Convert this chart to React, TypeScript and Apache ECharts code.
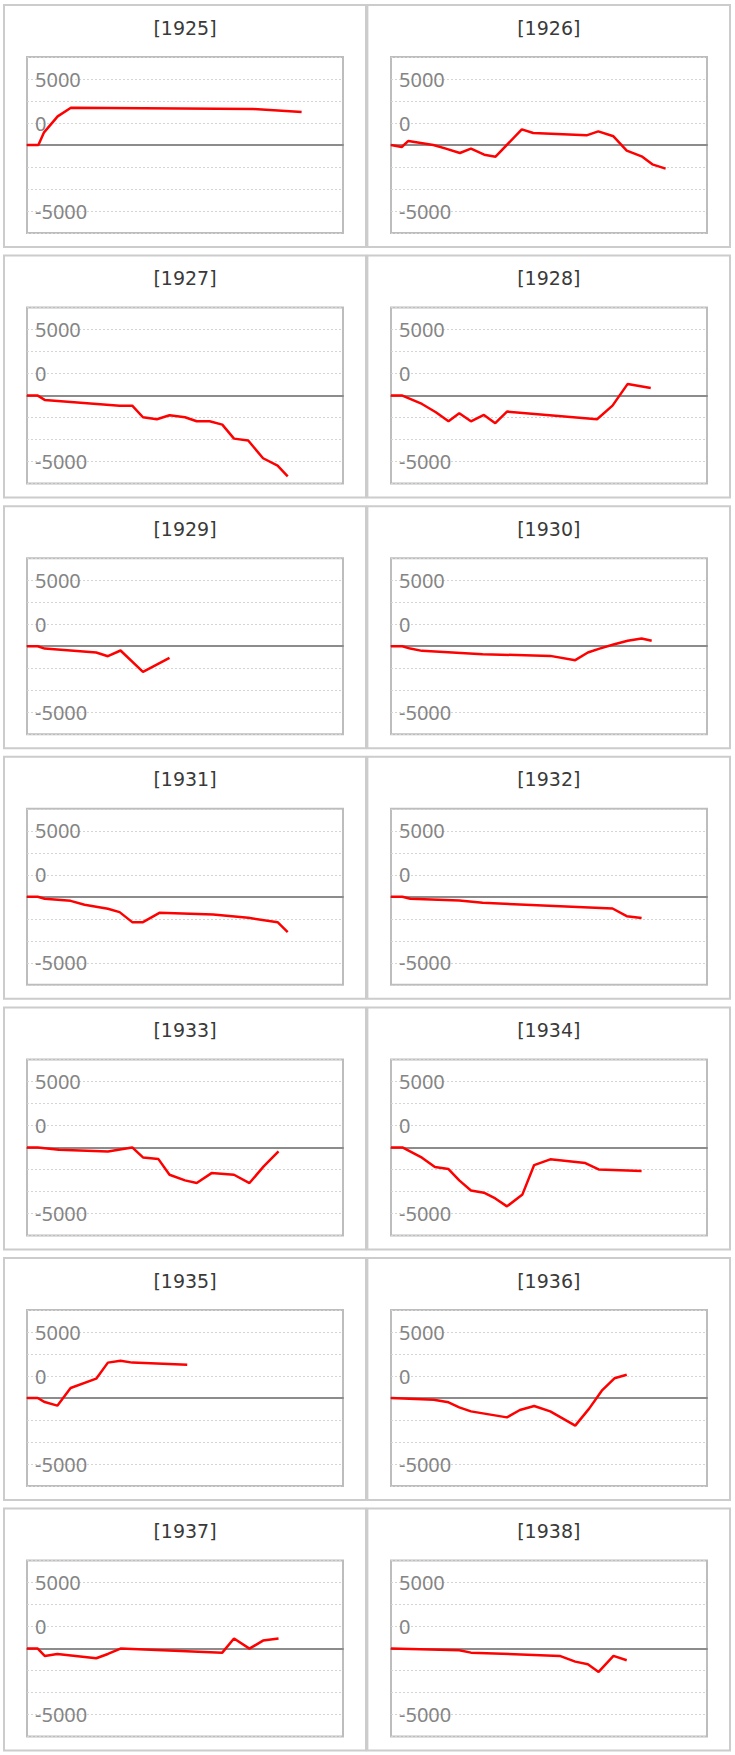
import React, { useEffect, useRef } from "react";
import * as echarts from "echarts";

const years = ["1925", "1926", "1927", "1928", "1929", "1930", "1931", "1932", "1933", "1934", "1935", "1936", "1937", "1938"];

// y-axis tick positions and the labels shown at them
const tickValues = [7500, 2500, -7500];
const tickLabels = ["5000", "0", "-5000"];

const x1925 = [0, 3.6, 5.4, 9.7, 13.9, 71.6, 86.9];
const y1925 = [0, 0, 1440, 3250, 4240, 4090, 3750];

const x1926 = [0, 3.4, 5.5, 13.4, 17.1, 21.8, 25.3, 29.5, 33.1, 41.4, 45.0, 61.9, 65.6, 70.4, 74.6, 79.3, 82.7, 86.9];
const y1926 = [0, -230, 460, 0, -380, -910, -420, -1100, -1330, 1780, 1360, 1100, 1550, 990, -640, -1290, -2200, -2690];

const x1927 = [0, 3.4, 5.6, 29.3, 33.3, 36.7, 41.1, 45.1, 50.0, 53.7, 57.8, 61.8, 65.5, 70.0, 74.7, 79.3, 82.5];
const y1927 = [0, 0, -490, -1140, -1140, -2460, -2690, -2240, -2460, -2920, -2920, -3300, -4890, -5110, -7120, -7950, -9170];

const x1928 = [0, 3.6, 9.8, 14.2, 18.2, 21.6, 25.3, 29.4, 33.0, 36.7, 65.2, 70.1, 74.9, 82.2];
const y1928 = [0, 0, -950, -1890, -2920, -2010, -2920, -2200, -3140, -1820, -2690, -1140, 1330, 870];

const x1929 = [0, 3.4, 5.6, 21.9, 25.6, 29.6, 36.7, 45.1];
const y1929 = [0, 0, -270, -720, -1140, -490, -2920, -1330];

const x1930 = [0, 3.6, 6.1, 9.8, 29.0, 50.4, 58.3, 62.3, 66.0, 70.4, 74.9, 79.3, 82.5];
const y1930 = [0, 0, -270, -530, -910, -1100, -1590, -720, -270, 190, 610, 870, 610];

const x1931 = [0, 3.4, 5.6, 13.8, 18.2, 25.6, 29.3, 33.3, 36.7, 41.9, 58.9, 70.0, 79.3, 82.5];
const y1931 = [0, 0, -230, -460, -910, -1360, -1740, -2880, -2880, -1820, -2010, -2390, -2880, -4020];

const x1932 = [0, 3.6, 6.1, 21.6, 29.0, 70.1, 74.6, 79.3];
const y1932 = [0, 0, -230, -420, -680, -1330, -2200, -2420];

const x1933 = [0, 3.4, 10.1, 25.6, 33.3, 36.7, 41.6, 45.1, 50.0, 53.7, 58.4, 65.5, 70.4, 74.9, 79.6];
const y1933 = [0, 0, -270, -460, 0, -1140, -1330, -3110, -3750, -4050, -2920, -3110, -4050, -2160, -460];

const x1934 = [0, 3.6, 9.8, 13.9, 18.2, 21.6, 25.3, 29.4, 33.0, 36.7, 41.6, 45.3, 50.4, 61.5, 65.7, 79.3];
const y1934 = [0, 0, -1170, -2240, -2460, -3750, -4890, -5150, -5800, -6700, -5340, -2010, -1360, -1780, -2500, -2690];

const x1935 = [0, 3.4, 5.6, 9.6, 13.8, 21.9, 25.6, 29.6, 33.3, 50.7];
const y1935 = [0, 0, -460, -870, 1140, 2200, 4020, 4240, 4020, 3790];

const x1936 = [0, 13.5, 18.2, 21.6, 25.3, 36.7, 40.8, 45.3, 50.4, 58.3, 62.7, 66.7, 70.7, 74.6];
const y1936 = [0, -190, -490, -1060, -1520, -2200, -1360, -910, -1520, -3140, -1210, 830, 2240, 2650];

const x1937 = [0, 3.4, 5.6, 9.6, 21.9, 25.6, 29.6, 61.8, 65.5, 70.4, 74.7, 79.6];
const y1937 = [0, 0, -830, -610, -1100, -610, 0, -460, 1140, 0, 910, 1140];

const x1938 = [0, 21.6, 25.3, 53.4, 58.3, 62.3, 65.7, 70.4, 74.6];
const y1938 = [0, -190, -460, -830, -1480, -1780, -2650, -830, -1330];

const xData = [x1925, x1926, x1927, x1928, x1929, x1930, x1931, x1932, x1933, x1934, x1935, x1936, x1937, x1938];
const yData = [y1925, y1926, y1927, y1928, y1929, y1930, y1931, y1932, y1933, y1934, y1935, y1936, y1937, y1938];

const ROW_PITCH = 250.6;

function buildOption() {
  const grids: any[] = [];
  const xAxes: any[] = [];
  const yAxes: any[] = [];
  const series: any[] = [];
  const graphics: any[] = [];

  years.forEach((year, i) => {
    const col = i % 2;
    const row = Math.floor(i / 2);
    const rowTop = row * ROW_PITCH;
    const panelX = col === 0 ? 4 : 367.4;
    const panelW = col === 0 ? 362 : 362.6;

    graphics.push({
      type: "rect",
      silent: true,
      z: -1,
      shape: { x: panelX, y: 5 + rowTop, width: panelW, height: 242 },
      style: { fill: "#ffffff", stroke: "#cccccc", lineWidth: 2 },
    });
    graphics.push({
      type: "text",
      silent: true,
      style: {
        text: "[" + year + "]",
        x: col === 0 ? 185 : 548.8,
        y: 27.5 + rowTop,
        align: "center",
        verticalAlign: "middle",
        fontFamily: "DejaVu Sans",
        fontSize: 19,
        fill: "#3a3a3a",
      },
    });

    grids.push({
      left: 27 + col * 364,
      top: 57 + rowTop,
      width: 316,
      height: 176,
      show: true,
      borderColor: "#bdbdbd",
      borderWidth: 2,
      backgroundColor: "transparent",
      containLabel: false,
    });

    xAxes.push({
      type: "value",
      gridIndex: i,
      min: 0,
      max: 100,
      axisLine: { show: true, onZero: true, lineStyle: { color: "#8c8c8c", width: 2 } },
      axisTick: { show: false },
      axisLabel: { show: false },
      splitLine: { show: false },
    });

    yAxes.push({
      type: "value",
      gridIndex: i,
      min: -10000,
      max: 10000,
      interval: 2500,
      axisLine: { show: false },
      axisTick: { show: false },
      axisLabel: {
        show: true,
        inside: true,
        margin: 8,
        color: "#858585",
        fontFamily: "Noto Sans",
        fontSize: 20,
        verticalAlign: "middle",
        formatter: (v: number) => {
          const k = tickValues.indexOf(v);
          return k >= 0 ? tickLabels[k] : "";
        },
      },
      splitLine: { show: true, lineStyle: { color: "#d4d4d4", width: 1, type: [2, 2] } },
    });

    const xs = xData[i];
    const ys = yData[i];
    series.push({
      type: "line",
      name: year,
      xAxisIndex: i,
      yAxisIndex: i,
      data: xs.map((x, j) => [x, ys[j]]),
      showSymbol: false,
      symbol: "none",
      silent: true,
      z: 5,
      lineStyle: { color: "#ff0000", width: 2.5 },
      itemStyle: { color: "#ff0000" },
    });
  });

  return {
    animation: false,
    backgroundColor: "#ffffff",
    grid: grids,
    xAxis: xAxes,
    yAxis: yAxes,
    series,
    graphic: graphics,
  };
}

export default function App() {
  const ref = useRef<HTMLDivElement>(null);
  useEffect(() => {
    if (!ref.current) return;
    const chart = echarts.init(ref.current, undefined, { renderer: "svg" });
    chart.setOption(buildOption() as any);
    return () => chart.dispose();
  }, []);
  return (
    <div
      ref={ref}
      style={{ position: "absolute", left: 0, top: 0, width: 735, height: 1755, background: "#fff" }}
    />
  );
}
